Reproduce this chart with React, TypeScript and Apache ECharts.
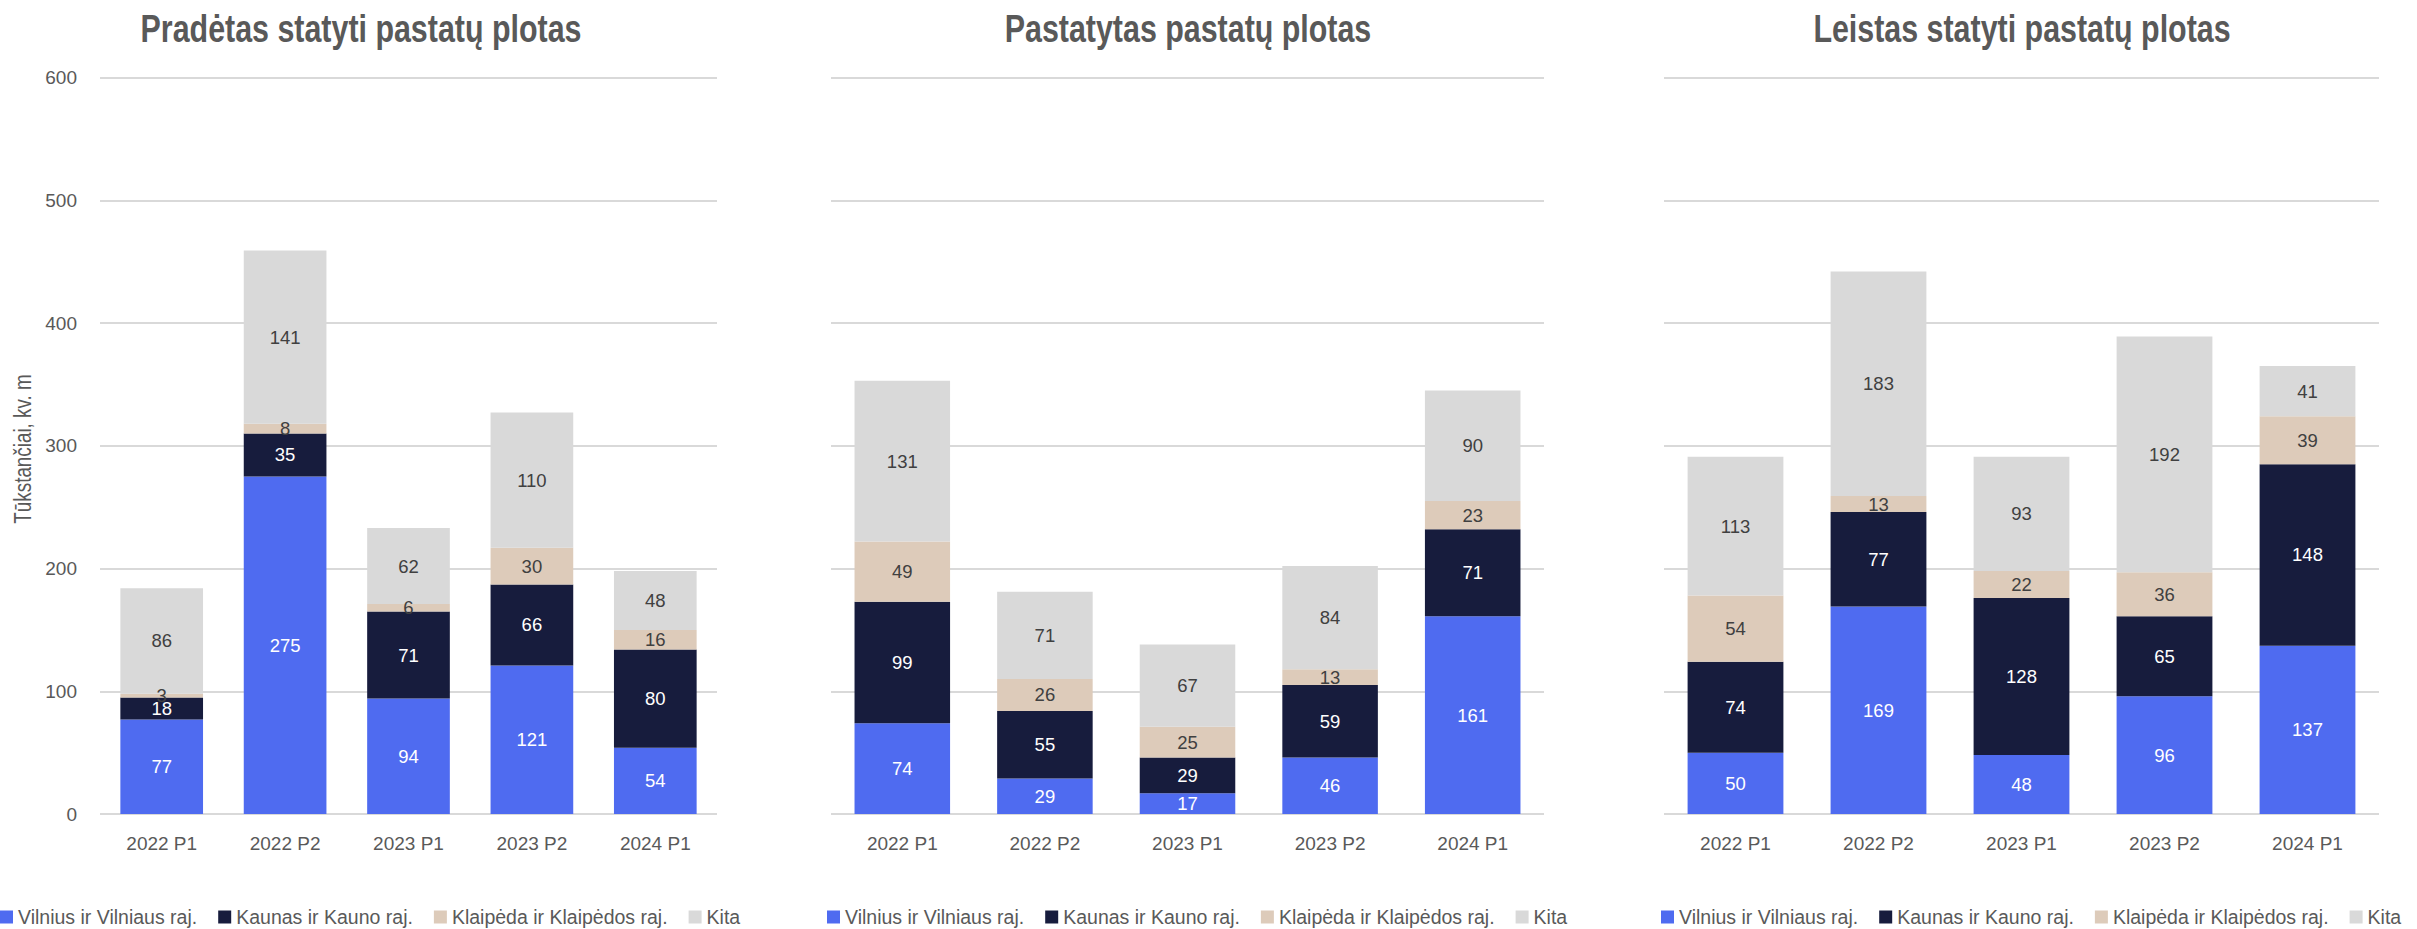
import React, { useEffect, useRef } from "react";
import * as echarts from "echarts";

const categories = ["2022 P1", "2022 P2", "2023 P1", "2023 P2", "2024 P1"];
const seriesNames = ["Vilnius ir Vilniaus raj.", "Kaunas ir Kauno raj.", "Klaipėda ir Klaipėdos raj.", "Kita"];
const titles = ["Pradėtas statyti pastatų plotas", "Pastatytas pastatų plotas", "Leistas statyti pastatų plotas"];
const yTicks = [0, 100, 200, 300, 400, 500, 600];
const yAxisName = "Tūkstančiai, kv. m";

// Pradėtas statyti
const startedVilnius = [77, 275, 94, 121, 54];
const startedKaunas = [18, 35, 71, 66, 80];
const startedKlaipeda = [3, 8, 6, 30, 16];
const startedOther = [86, 141, 62, 110, 48];

// Pastatytas
const builtVilnius = [74, 29, 17, 46, 161];
const builtKaunas = [99, 55, 29, 59, 71];
const builtKlaipeda = [49, 26, 25, 13, 23];
const builtOther = [131, 71, 67, 84, 90];

// Leistas statyti
const permittedVilnius = [50, 169, 48, 96, 137];
const permittedKaunas = [74, 77, 128, 65, 148];
const permittedKlaipeda = [54, 13, 22, 36, 39];
const permittedOther = [113, 183, 93, 192, 41];

const colors = ["#4F6BF0", "#171C3D", "#DDCBBA", "#D9D9D9"];
const labelColors = ["#ffffff", "#ffffff", "#404040", "#404040"];
const FONT = "'Liberation Sans', Arial, sans-serif";

const panels = [
  [startedVilnius, startedKaunas, startedKlaipeda, startedOther],
  [builtVilnius, builtKaunas, builtKlaipeda, builtOther],
  [permittedVilnius, permittedKaunas, permittedKlaipeda, permittedOther],
];

export default function App() {
  const ref = useRef<HTMLDivElement>(null);
  useEffect(() => {
    if (!ref.current) return;
    const chart = echarts.init(ref.current, undefined, { renderer: "svg" });
    const gridDefs = [
      { left: 100, width: 617 },
      { left: 831, width: 713 },
      { left: 1664, width: 715 },
    ];
    const titleCenters = [361, 1188, 2022];
    const legendLefts = [-5, 822, 1656];
    const grids = gridDefs.map((g) => ({ left: g.left, width: g.width, top: 77.5, bottom: 929 - 814, containLabel: false }));
    const xAxes = gridDefs.map((_, i) => ({
      type: "category",
      gridIndex: i,
      data: categories,
      axisLine: { show: false },
      axisTick: { show: false },
      axisLabel: { color: "#595959", fontSize: 19, fontFamily: FONT, margin: 20 },
    }));
    const yAxes = gridDefs.map((_, i) => ({
      type: "value",
      gridIndex: i,
      min: yTicks[0],
      max: yTicks[yTicks.length - 1],
      interval: yTicks[1] - yTicks[0],
      axisLine: { show: false },
      axisTick: { show: false },
      axisLabel: { show: i === 0, color: "#595959", fontSize: 19, fontFamily: FONT, margin: 23 },
      splitLine: { lineStyle: { color: "#D9D9D9", width: 2 } },
    }));
    const series: any[] = [];
    panels.forEach((panel, p) => {
      panel.forEach((vals, s) => {
        series.push({
          type: "bar",
          name: seriesNames[s],
          stack: "s" + p,
          xAxisIndex: p,
          yAxisIndex: p,
          data: vals,
          barWidth: "67%",
          itemStyle: { color: colors[s] },
          label: {
            show: true,
            position: "inside",
            color: labelColors[s],
            fontSize: 18.5,
            fontFamily: FONT,
          },
        });
      });
    });
    const titleGraphics = titles.map((t, i) => ({
      type: "text",
      x: titleCenters[i],
      y: 29,
      scaleX: 0.8,
      style: {
        text: t,
        fill: "#595959",
        fontSize: 38,
        fontWeight: "bold",
        fontFamily: FONT,
        textAlign: "center",
        textVerticalAlign: "middle",
      },
    }));
    const option: any = {
      animation: false,
      legend: legendLefts.map((l) => ({
        left: l,
        top: 902,
        data: seriesNames,
        itemWidth: 13,
        itemHeight: 13,
        itemGap: 21,
        icon: "rect",
        textStyle: { color: "#595959", fontSize: 19.5, fontFamily: FONT },
        selectedMode: false,
      })),
      grid: grids,
      xAxis: xAxes,
      yAxis: yAxes,
      series,
      graphic: [
        ...titleGraphics,
        {
          type: "text",
          x: 23,
          y: 449,
          rotation: Math.PI / 2,
          scaleX: 0.82,
          style: {
            text: yAxisName,
            fill: "#595959",
            fontSize: 23,
            fontFamily: FONT,
            textAlign: "center",
            textVerticalAlign: "middle",
          },
        },
      ],
    };
    chart.setOption(option);
    return () => chart.dispose();
  }, []);
  return <div ref={ref} style={{ position: "fixed", left: 0, top: 0, width: 2417, height: 929, background: "#fff" }} />;
}
